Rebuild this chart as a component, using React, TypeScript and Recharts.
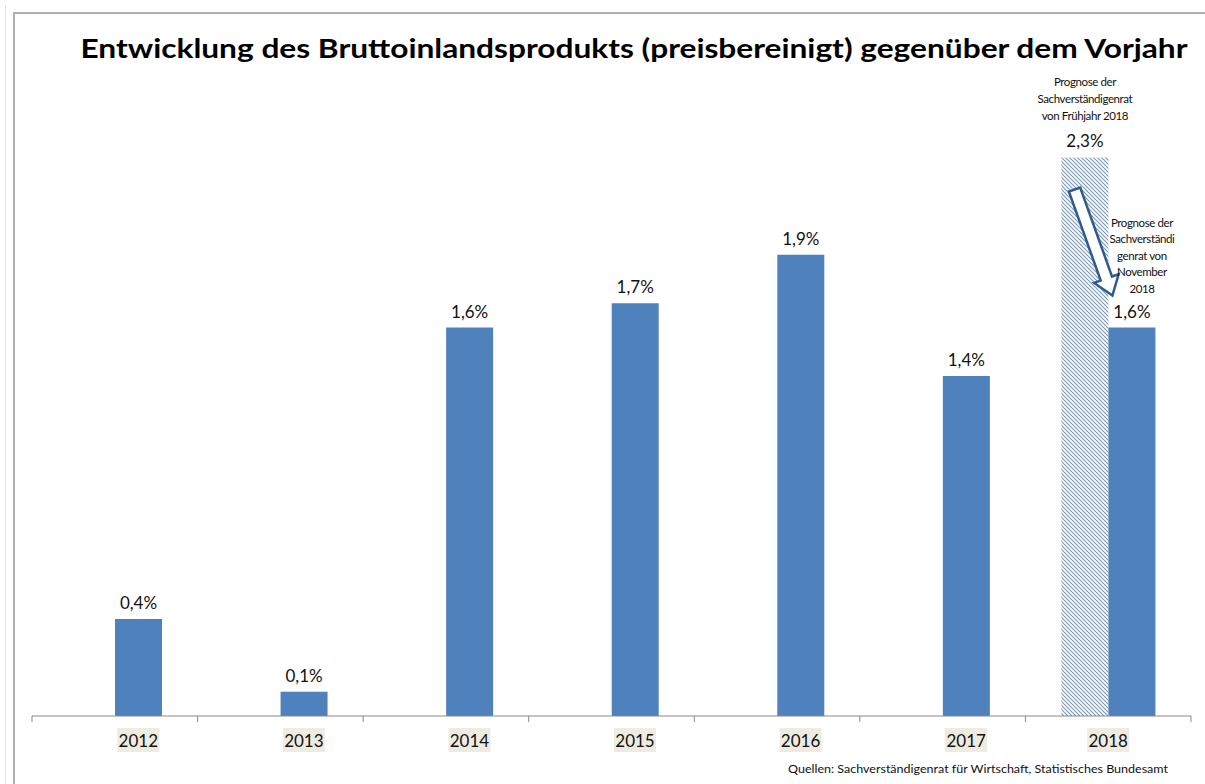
import React from 'react';
import { BarChart, Bar, XAxis, YAxis, LabelList } from 'recharts';

const years = ['2012', '2013', '2014', '2015', '2016', '2017', '2018'];
const actualValues = [0.4, 0.1, 1.6, 1.7, 1.9, 1.4, 1.6];
const springForecast: (number | null)[] = [null, null, null, null, null, null, 2.3];
const springNote = ['Prognose der', 'Sachverständigenrat', 'von Frühjahr 2018'];
const novemberNote = ['Prognose der', 'Sachverständi', 'genrat von', 'November', '2018'];
const titleText = 'Entwicklung des Bruttoinlandsprodukts (preisbereinigt) gegenüber dem Vorjahr';
const sourceText = 'Quellen: Sachverständigenrat für Wirtschaft, Statistisches Bundesamt';

const data = years.map((y, i) => ({ year: y, actual: actualValues[i], spring: springForecast[i] }));

const W = 1205;
const H = 784;
const AXIS_H = 30;
const MARGIN = { top: 109, right: 14, bottom: 38, left: 32 };
const PLOT_BOTTOM = H - MARGIN.bottom - AXIS_H;
const BAR_SIZE = 47;
const BAND = (W - MARGIN.left - MARGIN.right) / years.length;
const FONT = 'Lato, "Open Sans", sans-serif';
const BLUE = '#4f81bd';

const fmt = (v: number) => v.toFixed(1).replace('.', ',') + '%';

const XTick = (props: any) => {
  const { x, y, payload, index } = props;
  const hasForecast = springForecast[index] != null;
  const cx = hasForecast ? x : x + BAR_SIZE / 2;
  const isLast = index === years.length - 1;
  return (
    <g>
      <line x1={x - BAND / 2} x2={x - BAND / 2} y1={y} y2={y + 6} stroke="#898989" strokeWidth={1} />
      {isLast && <line x1={x + BAND / 2} x2={x + BAND / 2} y1={y} y2={y + 6} stroke="#898989" strokeWidth={1} />}
      <rect x={cx - 21} y={y + 12} width={42} height={24} fill="#eeece1" />
      <text x={cx} y={y + 31} textAnchor="middle" fontFamily={FONT} fontSize={17} fill="#111">
        {payload.value}
      </text>
    </g>
  );
};

const ActualLabel = (props: any) => {
  const { x, y, width, value, index } = props;
  if (value == null) return null;
  const cx = Number(x) + Number(width) / 2;
  const top = Number(y);
  return (
    <g>
      <text x={cx} y={top - 10} textAnchor="middle" fontFamily={FONT} fontSize={17} fill="#111">
        {fmt(value)}
      </text>
      {springForecast[index] != null &&
        novemberNote.map((t, i) => (
          <text key={i} x={cx + 10} y={top - 101 + i * 16.5} textAnchor="middle" fontFamily={FONT} fontSize={11.5} letterSpacing={-0.4} fill="#111">
            {t}
          </text>
        ))}
    </g>
  );
};

const SpringLabel = (props: any) => {
  const { value } = props;
  if (value == null) return null;
  const dataIndex = springForecast.indexOf(value);
  const x = Number(props.x);
  const y = Number(props.y);
  const width = Number(props.width);
  const cx = x + width / 2;
  const perUnit = (PLOT_BOTTOM - y) / value;
  const novTop = PLOT_BOTTOM - perUnit * actualValues[dataIndex];
  const tail = { x: x + 0.28 * width, y: y + 32 };
  const tip = { x: x + width + 4, y: novTop - 32 };
  const dx = tip.x - tail.x;
  const dy = tip.y - tail.y;
  const len = Math.sqrt(dx * dx + dy * dy);
  const ux = dx / len;
  const uy = dy / len;
  const nx = -uy;
  const ny = ux;
  const headLen = 18;
  const bx = tip.x - ux * headLen;
  const by = tip.y - uy * headLen;
  const sw = 6;
  const hw = 13;
  const pts = [
    [tail.x + nx * sw, tail.y + ny * sw],
    [bx + nx * sw, by + ny * sw],
    [bx + nx * hw, by + ny * hw],
    [tip.x, tip.y],
    [bx - nx * hw, by - ny * hw],
    [bx - nx * sw, by - ny * sw],
    [tail.x - nx * sw, tail.y - ny * sw],
  ]
    .map((p) => p.join(','))
    .join(' ');
  return (
    <g>
      <text x={cx} y={y - 11} textAnchor="middle" fontFamily={FONT} fontSize={17} fill="#111">
        {fmt(value)}
      </text>
      {springNote.map((t, i) => (
        <text key={i} x={cx} y={y - 72 + i * 17} textAnchor="middle" fontFamily={FONT} fontSize={11.5} letterSpacing={-0.4} fill="#111">
          {t}
        </text>
      ))}
      <polygon points={pts} fill="#ffffff" stroke="#2f5b8c" strokeWidth={2.5} strokeLinejoin="miter" />
    </g>
  );
};

export default function App() {
  return (
    <div style={{ position: 'absolute', left: 0, top: 0, width: W, height: H, background: '#fff' }}>
      <svg width={0} height={0} style={{ position: 'absolute' }}>
        <defs>
          <pattern id="hatch" patternUnits="userSpaceOnUse" width={4} height={4}>
            <rect width={4} height={4} fill="#ffffff" />
            <path d="M-1,-1 L5,5 M-1,3 L1,5 M3,-1 L5,1" stroke="#7d9ac0" strokeWidth={1.2} />
          </pattern>
        </defs>
      </svg>
      <div style={{ position: 'absolute', left: 5, top: 5, width: 1, height: H - 5, background: '#e4e4e4' }} />
      <div style={{ position: 'absolute', left: 13, top: 12, width: W - 13, height: 2, background: '#b0b0b0' }} />
      <div style={{ position: 'absolute', left: 13, top: 12, width: 2, height: H - 12, background: '#b0b0b0' }} />
      <svg width={W} height={H} style={{ position: 'absolute', left: 0, top: 0 }}>
        <text x={634} y={58} textAnchor="middle" fontFamily={FONT} fontWeight="bold" fontSize={27} fill="#000" textLength={1107} lengthAdjust="spacingAndGlyphs">
          {titleText}
        </text>
        <text x={1168} y={773} textAnchor="end" fontFamily={FONT} fontSize={11} fill="#111" textLength={380} lengthAdjust="spacingAndGlyphs">
          {sourceText}
        </text>
      </svg>
      <div style={{ position: 'absolute', left: 0, top: 0 }}>
        <BarChart width={W} height={H} data={data} margin={MARGIN} barGap={0} barSize={BAR_SIZE}>
          <XAxis
            dataKey="year"
            height={AXIS_H}
            axisLine={{ stroke: '#898989', strokeWidth: 1 }}
            tickLine={false}
            tickSize={0}
            tickMargin={0}
            tick={<XTick />}
            interval={0}
          />
          <YAxis hide domain={[0, 2.5]} />
          <Bar dataKey="spring" fill="url(#hatch)" isAnimationActive={false}>
            <LabelList dataKey="spring" content={<SpringLabel />} />
          </Bar>
          <Bar dataKey="actual" fill={BLUE} isAnimationActive={false}>
            <LabelList dataKey="actual" content={<ActualLabel />} />
          </Bar>
        </BarChart>
      </div>
    </div>
  );
}
